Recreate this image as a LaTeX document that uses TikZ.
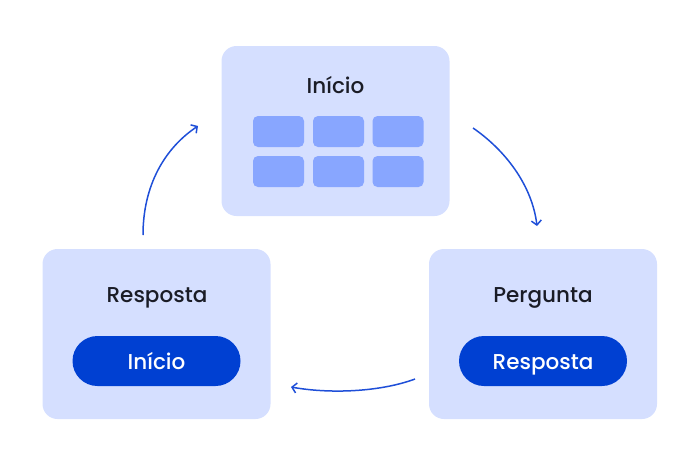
\documentclass[tikz,border=0pt]{standalone}
\usepackage{fontspec}
\setmainfont{Poppins}[UprightFont={* Medium}]
\usetikzlibrary{arrows.meta}
\definecolor{boxbg}{HTML}{D5DFFF}
\definecolor{cellc}{HTML}{88A6FF}
\definecolor{btnc}{HTML}{0040D2}
\definecolor{arrc}{HTML}{1F4FD8}
\definecolor{txt}{HTML}{1A1C26}
\tikzset{
  panel/.style={fill=boxbg, draw=none, rounded corners=15pt, minimum width=228pt, minimum height=170pt, inner sep=0pt},
  cell/.style={fill=cellc, draw=none, rounded corners=5pt, minimum width=51pt, minimum height=31pt, inner sep=0pt},
  btn/.style={fill=btnc, draw=none, rounded corners=25pt, minimum width=168pt, minimum height=50pt, inner sep=0pt},
  btntext/.style={text=white, font=\fontsize{21.5}{24}\selectfont, inner sep=0pt, anchor=base},
  title/.style={text=txt, font=\fontsize{21.5}{24}\selectfont, inner sep=0pt, anchor=base},
  flow/.style={draw=arrc, line width=1.5pt, -{Straight Barb[length=4.5pt,width=10pt]}}
}
\begin{document}
\begin{tikzpicture}[x=1pt,y=-1pt]
\useasboundingbox (0,0) rectangle (700,466);
\node[panel] (top) at (335.5,131) {};
\node[panel] (right) at (543,334) {};
\node[panel] (left) at (156.5,334) {};
\node[title] (ttop) at (335.5,93) {Início};
\node[title] (tright) at (543,302) {Pergunta};
\node[title] (tleft) at (157,302) {Resposta};
\node[cell] (c11) at (278.5,131.5) {};
\node[cell] (c12) at (338.5,131.5) {};
\node[cell] (c13) at (398,131.5) {};
\node[cell] (c21) at (278.5,171.5) {};
\node[cell] (c22) at (338.5,171.5) {};
\node[cell] (c23) at (398,171.5) {};
\node[btn] (bright) at (543,361) {};
\node[btn] (bleft) at (156.5,361) {};
\node[btntext] (lright) at (543,369) {Resposta};
\node[btntext] (lleft) at (156.5,369) {Início};
\coordinate (a1s) at (143,235);
\coordinate (a1e) at (198,126);
\coordinate (a2s) at (473,128);
\coordinate (a2e) at (537,226);
\coordinate (a3s) at (415,379);
\coordinate (a3e) at (291,387);
\draw[flow] (a1s) .. controls (143,185) and (165,148) .. (a1e);
\draw[flow] (a2s) .. controls (505,150) and (532,185) .. (a2e);
\draw[flow] (a3s) .. controls (380,392) and (330,394) .. (a3e);
\end{tikzpicture}
\end{document}
